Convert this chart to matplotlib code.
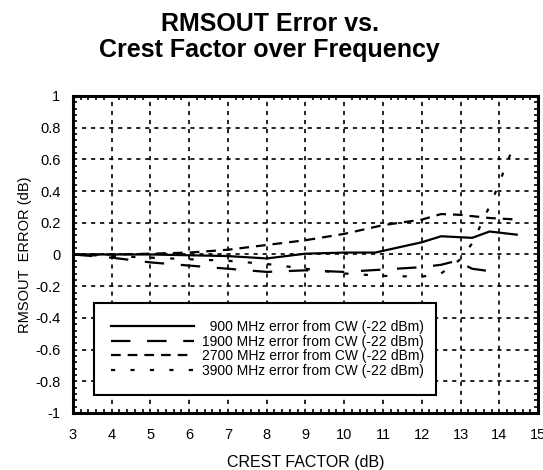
import numpy as np
import matplotlib
matplotlib.use("Agg")
import matplotlib.pyplot as plt
from matplotlib.ticker import MultipleLocator

plt.rcParams['font.family'] = ['Liberation Sans', 'DejaVu Sans']
plt.rcParams['lines.scale_dashes'] = False

# crest factor (dB) vs. RMSOUT error (dB), one curve per carrier frequency
cf_900 = [3, 4, 5, 6, 7, 8, 9, 10, 10.8, 11.5, 12, 12.5, 13.3, 13.75, 14.45]
err_900 = [0, 0, 0, -0.005, -0.01, -0.025, 0.005, 0.012, 0.012, 0.05, 0.077, 0.115, 0.105, 0.145, 0.125]

cf_1900 = [3, 4, 5, 6, 7, 8, 9, 10, 11, 12, 12.5, 12.9, 13.3, 13.6, 14]
err_1900 = [0, -0.02, -0.05, -0.07, -0.09, -0.11, -0.10, -0.11, -0.095, -0.08, -0.065, -0.04, -0.09, -0.10, -0.115]

cf_2700 = [3, 4, 5, 6, 7, 8, 9, 10, 11, 12, 12.5, 13, 13.75, 14.5]
err_2700 = [0, 0, 0.005, 0.012, 0.03, 0.06, 0.09, 0.13, 0.185, 0.22, 0.255, 0.25, 0.23, 0.22]

cf_3900 = [3, 4, 5, 6, 7, 8, 9, 10, 11, 12, 12.5, 13, 13.3, 13.8, 14.0, 14.2, 14.4]
err_3900 = [0, -0.01, -0.02, -0.03, -0.04, -0.06, -0.09, -0.12, -0.135, -0.14, -0.12, -0.03, 0.07, 0.33, 0.45, 0.58, 0.70]

labels = ["  900 MHz error from CW (-22 dBm)",
          "1900 MHz error from CW (-22 dBm)",
          "2700 MHz error from CW (-22 dBm)",
          "3900 MHz error from CW (-22 dBm)"]

fig = plt.figure(figsize=(5.43, 4.70), dpi=100)
ax = fig.add_axes([0.1344, 0.1213, 0.8564, 0.6745])

lw = 1.6
ax.plot(cf_900, err_900, color='black', lw=lw, label=labels[0])
ax.plot(cf_1900, err_1900, color='black', lw=lw, dashes=(14, 12), label=labels[1])
ax.plot(cf_2700, err_2700, color='black', lw=lw, dashes=(7, 5), label=labels[2])
ax.plot(cf_3900, err_3900, color='black', lw=lw, dashes=(3, 11), label=labels[3])

ax.set_xlim(3, 15)
ax.set_ylim(-1, 1)
ax.xaxis.set_major_locator(MultipleLocator(1))
ax.xaxis.set_minor_locator(MultipleLocator(0.2))
ax.yaxis.set_major_locator(MultipleLocator(0.2))
ax.yaxis.set_minor_locator(MultipleLocator(0.04))
ax.set_yticks(np.arange(-1, 1.01, 0.2))
ax.set_yticklabels(['-1', '-0.8', '-0.6', '-0.4', '-0.2', '0', '0.2', '0.4', '0.6', '0.8', '1'])

ax.grid(True, which='major', color='black', lw=1.2, dashes=(3, 3.5))
ax.tick_params(which='both', direction='in', top=True, right=True, labelsize=10.5, color='black')
ax.tick_params(which='major', length=0, pad=11)
ax.tick_params(axis='y', which='major', pad=9)
ax.tick_params(which='minor', length=3, width=1.2)
for s in ax.spines.values():
    s.set_linewidth(2.2)

ax.set_xlabel("CREST FACTOR (dB)", fontsize=11.5, labelpad=9)
ax.set_ylabel("RMSOUT  ERROR (dB)", fontsize=10.5, labelpad=2)

fig.text(0.497, 0.921, "RMSOUT Error vs.\nCrest Factor over Frequency",
         ha='center', va='center', fontsize=18, fontweight='bold', linespacing=1.12)

leg = ax.legend(loc='center', bbox_to_anchor=(0.03, 0.066, 0.766, 0.272),
                mode='expand', fontsize=10, handlelength=6, handletextpad=0.6,
                labelspacing=0.05, borderpad=1.2, frameon=True, fancybox=False,
                framealpha=1, edgecolor='black', markerfirst=True)
leg.get_frame().set_linewidth(1.5)

fig.savefig("out.png", dpi=100)
